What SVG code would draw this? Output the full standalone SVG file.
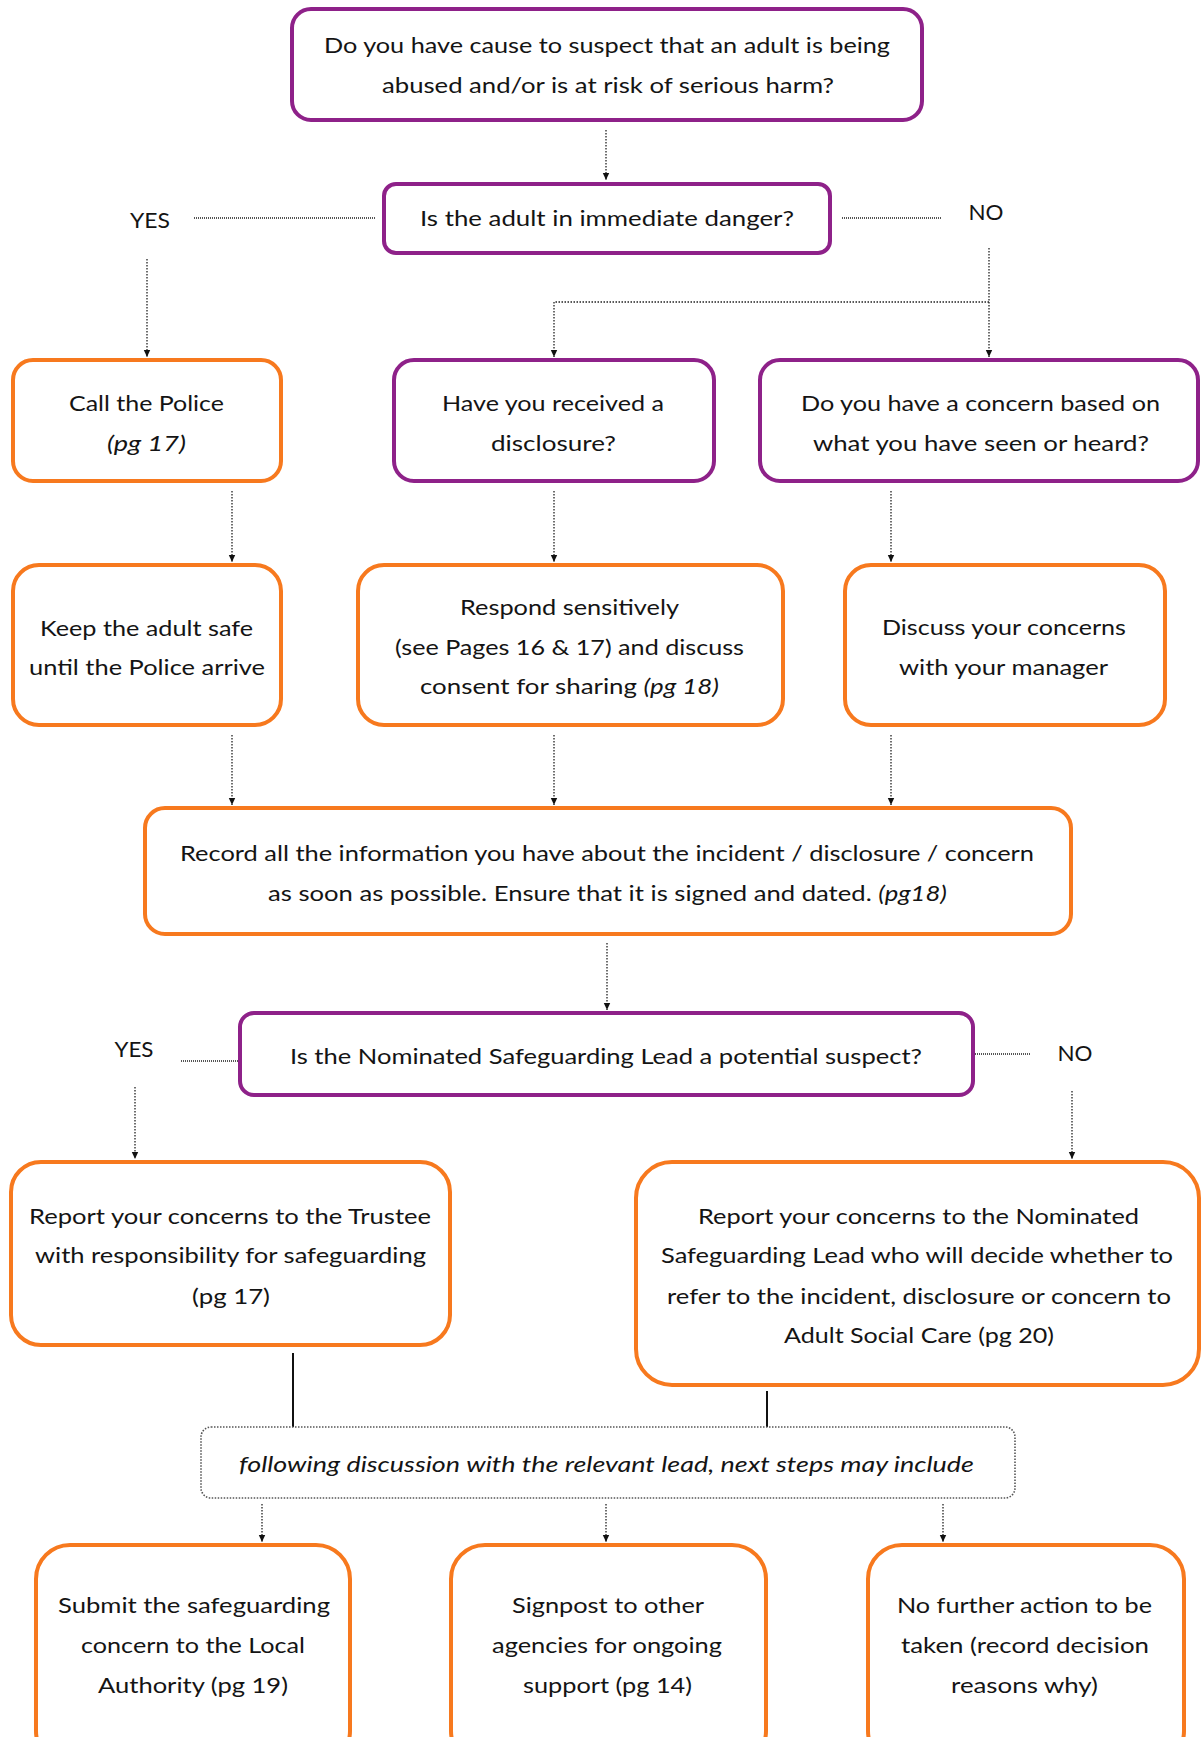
<svg xmlns="http://www.w3.org/2000/svg" width="1202" height="1737" viewBox="0 0 1202 1737">
<style>
.p{fill:#fff;stroke:#8E2189;stroke-width:4}
.o{fill:#fff;stroke:#F7791E;stroke-width:4}
.d{fill:#fff;stroke:#555;stroke-width:1.6;stroke-dasharray:1.5 1.5}
text{font-family:Lato,"Open Sans","Liberation Sans",sans-serif;font-size:21px;fill:#141414;text-anchor:middle}
.i{font-style:italic}
.c{fill:none;stroke:#222;stroke-width:1.3;stroke-dasharray:1.5 1.5}
.h{fill:none;stroke:#555;stroke-width:2.2;stroke-dasharray:1 1}
.s{fill:none;stroke:#111;stroke-width:2}
</style>
<defs>
<marker id="a" markerUnits="userSpaceOnUse" markerWidth="8" markerHeight="8" refX="7" refY="4" orient="auto">
<path d="M0,0.8 L7,4 L0,7.2 Z" fill="#111"/>
</marker>
</defs>
<g id="connectors">
<path class="c" d="M606,130 V180" marker-end="url(#a)"/>
<path class="h" d="M194,218 H376"/>
<path class="h" d="M842,218 H942"/>
<path class="c" d="M147,259 V357" marker-end="url(#a)"/>
<path class="c" d="M989,248 V357" marker-end="url(#a)"/>
<path class="c" d="M989,302 H554 V357" marker-end="url(#a)"/>
<path class="c" d="M232,491 V562" marker-end="url(#a)"/>
<path class="c" d="M554,491 V562" marker-end="url(#a)"/>
<path class="c" d="M891,491 V562" marker-end="url(#a)"/>
<path class="c" d="M232,735 V805" marker-end="url(#a)"/>
<path class="c" d="M554,735 V805" marker-end="url(#a)"/>
<path class="c" d="M891,735 V805" marker-end="url(#a)"/>
<path class="c" d="M607,943 V1010" marker-end="url(#a)"/>
<path class="h" d="M181,1061 H238"/>
<path class="h" d="M975,1054 H1031"/>
<path class="c" d="M135,1087 V1159" marker-end="url(#a)"/>
<path class="c" d="M1072,1091 V1159" marker-end="url(#a)"/>
<path class="s" d="M293,1353 V1427"/>
<path class="s" d="M767,1391 V1427"/>
<path class="c" d="M262,1504 V1542" marker-end="url(#a)"/>
<path class="c" d="M606,1504 V1542" marker-end="url(#a)"/>
<path class="c" d="M943,1504 V1542" marker-end="url(#a)"/>
</g>
<g id="labels">
<text x="150" y="228" textLength="40" lengthAdjust="spacingAndGlyphs">YES</text>
<text x="986" y="220" textLength="35" lengthAdjust="spacingAndGlyphs">NO</text>
<text x="134" y="1057" textLength="39" lengthAdjust="spacingAndGlyphs">YES</text>
<text x="1075" y="1061" textLength="35" lengthAdjust="spacingAndGlyphs">NO</text>
</g>
<g id="n1">
<rect class="p" x="292" y="9" width="630" height="111" rx="19"/>
<text x="607" y="53" textLength="566" lengthAdjust="spacingAndGlyphs">Do you have cause to suspect that an adult is being</text>
<text x="608" y="93" textLength="452" lengthAdjust="spacingAndGlyphs">abused and/or is at risk of serious harm?</text>
</g>
<g id="n2">
<rect class="p" x="384" y="184" width="446" height="69" rx="12"/>
<text x="607" y="226" textLength="374" lengthAdjust="spacingAndGlyphs">Is the adult in immediate danger?</text>
</g>
<g id="n3">
<rect class="o" x="13" y="360" width="268" height="121" rx="20"/>
<text x="146.5" y="411" textLength="155" lengthAdjust="spacingAndGlyphs">Call the Police</text>
<text class="i" x="146.5" y="451" textLength="79" lengthAdjust="spacingAndGlyphs">(pg 17)</text>
</g>
<g id="n4">
<rect class="p" x="394" y="360" width="320" height="121" rx="20"/>
<text x="553" y="411" textLength="222" lengthAdjust="spacingAndGlyphs">Have you received a</text>
<text x="553.5" y="451" textLength="125" lengthAdjust="spacingAndGlyphs">disclosure?</text>
</g>
<g id="n5">
<rect class="p" x="760" y="360" width="438" height="121" rx="20"/>
<text x="980.5" y="411" textLength="359" lengthAdjust="spacingAndGlyphs">Do you have a concern based on</text>
<text x="981" y="451" textLength="336" lengthAdjust="spacingAndGlyphs">what you have seen or heard?</text>
</g>
<g id="n6">
<rect class="o" x="13" y="565" width="268" height="160" rx="26"/>
<text x="146.5" y="636" textLength="213" lengthAdjust="spacingAndGlyphs">Keep the adult safe</text>
<text x="147" y="675" textLength="236" lengthAdjust="spacingAndGlyphs">until the Police arrive</text>
</g>
<g id="n7">
<rect class="o" x="358" y="565" width="425" height="160" rx="26"/>
<text x="569.5" y="615" textLength="219" lengthAdjust="spacingAndGlyphs">Respond sensitively</text>
<text x="569.5" y="655" textLength="349" lengthAdjust="spacingAndGlyphs">(see Pages 16 &amp; 17) and discuss</text>
<text x="569.5" y="694" textLength="299" lengthAdjust="spacingAndGlyphs">consent for sharing <tspan class="i">(pg 18)</tspan></text>
</g>
<g id="n8">
<rect class="o" x="845" y="565" width="320" height="160" rx="26"/>
<text x="1004" y="635" textLength="244" lengthAdjust="spacingAndGlyphs">Discuss your concerns</text>
<text x="1003.5" y="675" textLength="209" lengthAdjust="spacingAndGlyphs">with your manager</text>
</g>
<g id="n9">
<rect class="o" x="145" y="808" width="926" height="126" rx="20"/>
<text x="607" y="861" textLength="854" lengthAdjust="spacingAndGlyphs">Record all the information you have about the incident / disclosure / concern</text>
<text x="607.5" y="901" textLength="679" lengthAdjust="spacingAndGlyphs">as soon as possible. Ensure that it is signed and dated. <tspan class="i">(pg18)</tspan></text>
</g>
<g id="n10">
<rect class="p" x="240" y="1013" width="733" height="82" rx="14"/>
<text x="606" y="1064" textLength="632" lengthAdjust="spacingAndGlyphs">Is the Nominated Safeguarding Lead a potential suspect?</text>
</g>
<g id="n11">
<rect class="o" x="11" y="1162" width="439" height="183" rx="30"/>
<text x="230" y="1224" textLength="402" lengthAdjust="spacingAndGlyphs">Report your concerns to the Trustee</text>
<text x="230.5" y="1263" textLength="391" lengthAdjust="spacingAndGlyphs">with responsibility for safeguarding</text>
<text x="231" y="1304" textLength="78" lengthAdjust="spacingAndGlyphs">(pg 17)</text>
</g>
<g id="n12">
<rect class="o" x="636" y="1162" width="563" height="223" rx="36"/>
<text x="918.5" y="1224" textLength="441" lengthAdjust="spacingAndGlyphs">Report your concerns to the Nominated</text>
<text x="917" y="1263" textLength="512" lengthAdjust="spacingAndGlyphs">Safeguarding Lead who will decide whether to</text>
<text x="919" y="1304" textLength="504" lengthAdjust="spacingAndGlyphs">refer to the incident, disclosure or concern to</text>
<text x="919" y="1343" textLength="270" lengthAdjust="spacingAndGlyphs">Adult Social Care (pg 20)</text>
</g>
<g id="n13">
<rect class="d" x="201" y="1427" width="814" height="71" rx="10"/>
<text class="i" x="606.5" y="1472" textLength="735" lengthAdjust="spacingAndGlyphs">following discussion with the relevant lead, next steps may include</text>
</g>
<g id="n14">
<rect class="o" x="36" y="1545" width="314" height="220" rx="34"/>
<text x="194" y="1613" textLength="272" lengthAdjust="spacingAndGlyphs">Submit the safeguarding</text>
<text x="193" y="1653" textLength="224" lengthAdjust="spacingAndGlyphs">concern to the Local</text>
<text x="193" y="1693" textLength="190" lengthAdjust="spacingAndGlyphs">Authority (pg 19)</text>
</g>
<g id="n15">
<rect class="o" x="451" y="1545" width="315" height="220" rx="34"/>
<text x="608" y="1613" textLength="192" lengthAdjust="spacingAndGlyphs">Signpost to other</text>
<text x="607" y="1653" textLength="230" lengthAdjust="spacingAndGlyphs">agencies for ongoing</text>
<text x="607.5" y="1693" textLength="169" lengthAdjust="spacingAndGlyphs">support (pg 14)</text>
</g>
<g id="n16">
<rect class="o" x="868" y="1545" width="316" height="220" rx="34"/>
<text x="1024.5" y="1613" textLength="255" lengthAdjust="spacingAndGlyphs">No further action to be</text>
<text x="1025" y="1653" textLength="248" lengthAdjust="spacingAndGlyphs">taken (record decision</text>
<text x="1024.5" y="1693" textLength="147" lengthAdjust="spacingAndGlyphs">reasons why)</text>
</g>
</svg>
